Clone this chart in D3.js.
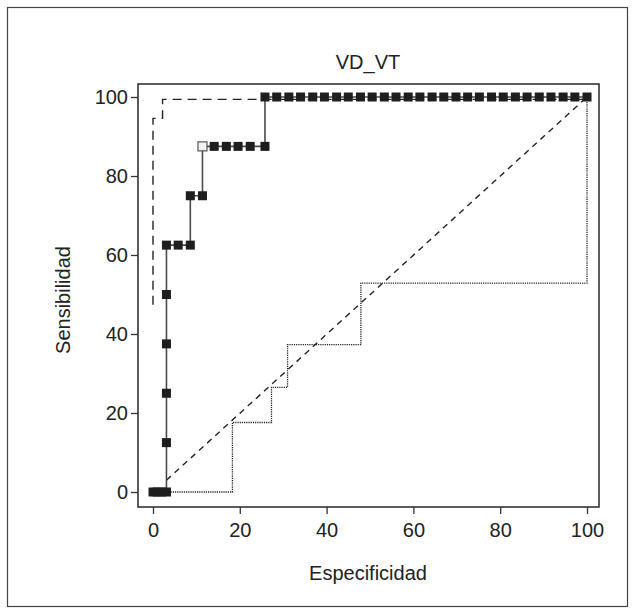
<!DOCTYPE html>
<html>
<head>
<meta charset="utf-8">
<script src="https://cdn.jsdelivr.net/npm/d3@7"></script>
<style>
  html, body { margin: 0; padding: 0; background: #fff; }
  svg { display: block; font-family: "Liberation Sans", Arial, sans-serif; }
</style>
</head>
<body>
<svg id="chart" width="635" height="615"></svg>
<script>
// ROC curve for VD_VT: specificity axis vs sensitivity (both in %)
const title = "VD_VT";
const xLabel = "Especificidad";
const yLabel = "Sensibilidad";
const xTicks = [0, 20, 40, 60, 80, 100];
const yTicks = [0, 20, 40, 60, 80, 100];

// Observed operating points (step curve with square markers)
const rocX = [0, 1.0, 2.0, 3.1, 3.1, 3.1, 3.1, 3.1, 3.1, 5.8, 8.6, 8.6, 11.4,
  11.4, 14.1, 16.9, 19.6, 22.4, 25.8,
  25.8, 28.5, 31.3, 34.0, 36.8, 39.5, 42.3, 45.0, 47.8, 50.5, 53.3, 56.0, 58.8, 61.5,
  64.3, 67.0, 69.8, 72.5, 75.2, 78.0, 80.7, 83.5, 86.2, 89.0, 91.7, 94.5, 97.2, 100];
const rocY = [0, 0, 0, 0, 12.5, 25, 37.5, 50, 62.5, 62.5, 62.5, 75, 75,
  87.5, 87.5, 87.5, 87.5, 87.5, 87.5,
  100, 100, 100, 100, 100, 100, 100, 100, 100, 100, 100, 100, 100, 100,
  100, 100, 100, 100, 100, 100, 100, 100, 100, 100, 100, 100, 100, 100];
// Index of the highlighted (open) marker: the chosen cut-off
const cutIndex = 13;

// Upper bound curve (dashed)
const upperX = [0, 0, 2.2, 2.2, 100];
const upperY = [47.4, 94.6, 94.6, 99.4, 99.4];

// Lower bound curve (dotted)
const lowerX = [0, 18.3, 18.3, 27.3, 27.3, 31.0, 31.0, 47.9, 47.9, 100, 100];
const lowerY = [0, 0, 17.6, 17.6, 26.5, 26.5, 37.3, 37.3, 52.9, 52.9, 100];

// Chance diagonal (dashed)
const diagX = [3.1, 100];
const diagY = [3.0, 100];

const svg = d3.select("#chart");

// Outer figure frame
svg.append("rect")
  .attr("x", 7.5).attr("y", 7.5).attr("width", 620).attr("height", 599)
  .attr("fill", "none").attr("stroke", "#444").attr("stroke-width", 1.2);

const frame = { left: 138, right: 599, top: 84, bottom: 507 };
const x = d3.scaleLinear().domain([0, 100]).range([153, 587]);
const y = d3.scaleLinear().domain([0, 100]).range([492, 97]);

// Plot frame
svg.append("rect")
  .attr("x", frame.left).attr("y", frame.top)
  .attr("width", frame.right - frame.left).attr("height", frame.bottom - frame.top)
  .attr("fill", "none").attr("stroke", "#333").attr("stroke-width", 1.6);

// Axes
const xAxis = svg.append("g")
  .attr("transform", `translate(0,${frame.bottom})`)
  .call(d3.axisBottom(x).tickValues(xTicks).tickSize(7).tickPadding(9));
const yAxis = svg.append("g")
  .attr("transform", `translate(${frame.left},0)`)
  .call(d3.axisLeft(y).tickValues(yTicks).tickSize(7).tickPadding(3));
[xAxis, yAxis].forEach(g => {
  g.select(".domain").remove();
  g.selectAll("line").attr("stroke", "#333").attr("stroke-width", 1.3);
  g.selectAll("text").attr("fill", "#222").style("font-size", "20px")
    .style("font-family", "'Liberation Sans', Arial, sans-serif");
});

const line = d3.line().x(d => x(d[0])).y(d => y(d[1]));
const pts = (xs, ys) => xs.map((v, i) => [v, ys[i]]);

// Dotted lower curve
svg.append("path").datum(pts(lowerX, lowerY)).attr("d", line)
  .attr("fill", "none").attr("stroke", "#222").attr("stroke-width", 1.3)
  .attr("stroke-dasharray", "1.2,1");

// Diagonal reference
svg.append("path").datum(pts(diagX, diagY)).attr("d", line)
  .attr("fill", "none").attr("stroke", "#222").attr("stroke-width", 1.4)
  .attr("stroke-dasharray", "6,5");

// Dashed upper curve
svg.append("path").datum(pts(upperX, upperY)).attr("d", line)
  .attr("fill", "none").attr("stroke", "#222").attr("stroke-width", 1.4)
  .attr("stroke-dasharray", "9,6");

// Step curve through observed points
const rocPts = pts(rocX, rocY);
svg.append("path").datum(rocPts).attr("d", line)
  .attr("fill", "none").attr("stroke", "#4a4a4a").attr("stroke-width", 1.6);

// Markers
const sq = 9;
svg.append("g").selectAll("rect").data(rocPts).join("rect")
  .attr("x", d => x(d[0]) - sq / 2).attr("y", d => y(d[1]) - sq / 2)
  .attr("width", sq).attr("height", sq)
  .attr("fill", (d, i) => i === cutIndex ? "#f2f2f2" : "#1e1e1e")
  .attr("stroke", (d, i) => i === cutIndex ? "#555" : "none")
  .attr("stroke-width", 1.2);

// Titles
svg.append("text").attr("x", 368).attr("y", 69).attr("text-anchor", "middle")
  .style("font-size", "20px").attr("fill", "#222").text(title);
svg.append("text").attr("x", 368).attr("y", 580).attr("text-anchor", "middle")
  .style("font-size", "20px").attr("fill", "#222").text(xLabel);
svg.append("text").attr("transform", "translate(70,300) rotate(-90)")
  .attr("text-anchor", "middle")
  .style("font-size", "20px").attr("fill", "#222").text(yLabel);
</script>
</body>
</html>
